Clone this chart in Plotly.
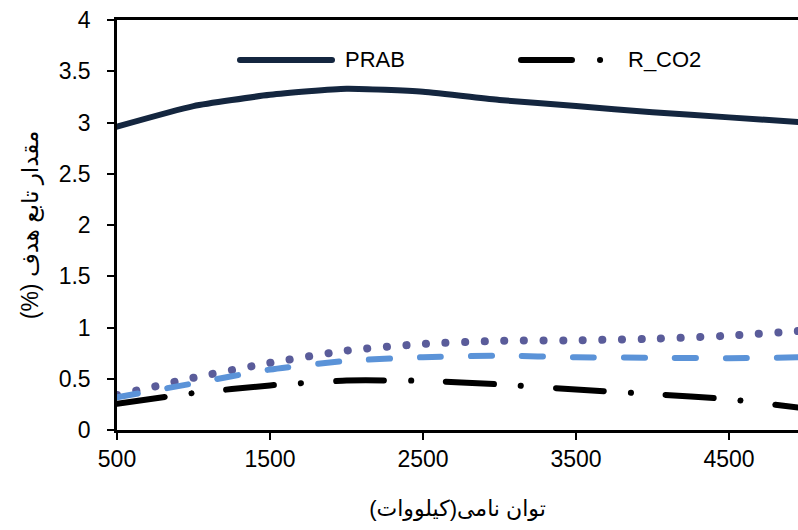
import plotly.graph_objects as go

x_power = [500, 1000, 1500, 2000, 2500, 3000, 3500, 4000, 4500, 5000]
prab = [2.96, 3.16, 3.27, 3.33, 3.30, 3.22, 3.16, 3.10, 3.05, 3.00]
r_co2 = [0.255, 0.36, 0.435, 0.483, 0.48, 0.445, 0.395, 0.35, 0.30, 0.21]
series_dotted = [0.34, 0.51, 0.655, 0.775, 0.84, 0.87, 0.875, 0.89, 0.92, 0.97]
series_dashed = [0.32, 0.455, 0.59, 0.675, 0.71, 0.725, 0.71, 0.705, 0.70, 0.71]
x_ticks = [500, 1500, 2500, 3500, 4500]
y_ticks = [0, 0.5, 1, 1.5, 2, 2.5, 3, 3.5, 4]
y_tick_text = ["0", "0.5", "1", "1.5", "2", "2.5", "3", "3.5", "4"]
legend_names = ["PRAB", "R_CO2"]

NAVY = "#14263f"
W, H = 798, 530
ML, MR, MT, MB = 117, 0, 20, 100
PW, PH = W - ML - MR, H - MT - MB

def px(xp):
    return (xp - ML) / PW

def py(yp):
    return (H - MB - yp) / PH

fig = go.Figure()
fig.add_trace(go.Scatter(x=x_power, y=series_dotted, mode="lines", showlegend=False,
                         line=dict(color="#5a5c9a", width=8, dash="0.1px,19.5px", shape="spline", smoothing=0.5)))
fig.add_trace(go.Scatter(x=x_power, y=series_dashed, mode="lines", showlegend=False,
                         line=dict(color="#5b93d8", width=6, dash="21px,30px", shape="spline", smoothing=0.5)))
fig.add_trace(go.Scatter(x=x_power, y=r_co2, mode="lines", name=legend_names[1], showlegend=False,
                         line=dict(color="#000000", width=6, dash="48px,27px,0.1px,35px", shape="spline", smoothing=0.5)))
fig.add_trace(go.Scatter(x=x_power, y=prab, mode="lines", name=legend_names[0], showlegend=False,
                         line=dict(color=NAVY, width=6, shape="spline", smoothing=0.5)))

# manual legend (lines as shapes, text as annotations)
fig.add_shape(type="line", xref="paper", yref="paper", x0=px(240), x1=px(332), y0=py(60), y1=py(60),
              line=dict(color=NAVY, width=6))
fig.add_shape(type="line", xref="paper", yref="paper", x0=px(521), x1=px(603), y0=py(60), y1=py(60),
              line=dict(color="#000", width=6, dash="51px,28px,0.1px,100px"))
fig.add_annotation(xref="paper", yref="paper", x=px(343), y=py(60), text=legend_names[0], showarrow=False,
                   xanchor="left", yanchor="middle", font=dict(size=22))
fig.add_annotation(xref="paper", yref="paper", x=px(626), y=py(60), text=legend_names[1], showarrow=False,
                   xanchor="left", yanchor="middle", font=dict(size=22))

fig.update_layout(
    width=W, height=H,
    margin=dict(l=ML, r=MR, t=MT, b=MB),
    paper_bgcolor="white", plot_bgcolor="white",
    font=dict(family="Liberation Sans, DejaVu Sans, sans-serif", size=23, color="#000"),
    showlegend=False,
)
fig.update_xaxes(range=[500, 4951], tickvals=x_ticks, ticktext=[str(v) for v in x_ticks],
                 showgrid=False, zeroline=False, showline=True, linecolor="#000", linewidth=2.5,
                 mirror=True, ticks="outside", ticklen=7, tickwidth=2, tickcolor="#000", automargin=False,
                 title=dict(text="\u200Fتوان نامی(کیلووات)\u200F", font=dict(size=22), standoff=30))
fig.update_yaxes(range=[0, 4], tickvals=y_ticks, ticktext=y_tick_text,
                 showgrid=False, zeroline=False, showline=True, linecolor="#000", linewidth=2.5,
                 ticks="outside", ticklen=7, tickwidth=2, tickcolor="#000", ticklabelstandoff=12,
                 automargin=False,
                 title=dict(text="\u200Fمقدار تابع هدف (%)\u200F", font=dict(size=23), standoff=14))

post = """
document.body.style.margin='0';
document.body.style.overflow='hidden';
document.documentElement.style.overflow='hidden';
document.querySelectorAll('.scatterlayer .js-line, .shapelayer path').forEach(function(p){
  p.style.strokeLinecap='round';
});
"""
fig.write_html("out.html", post_script=post, config={"displayModeBar": False})
